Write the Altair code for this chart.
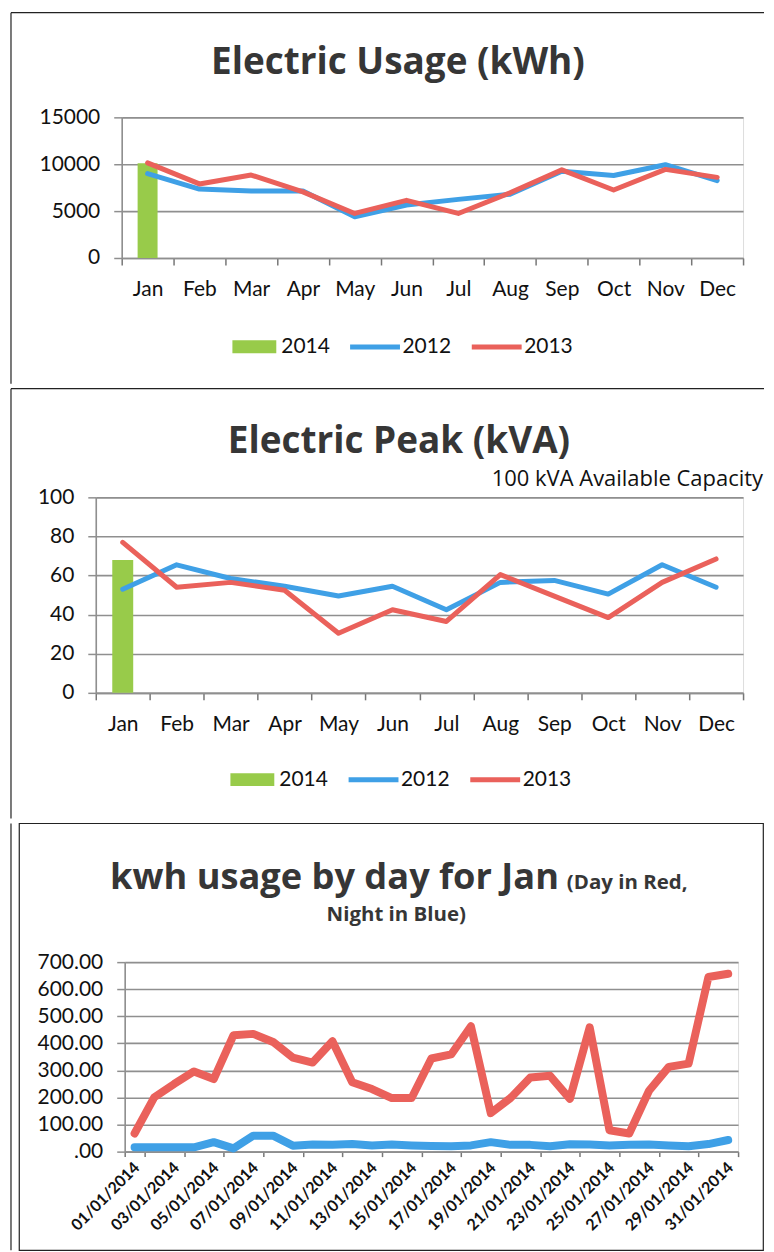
import altair as alt
import pandas as pd

FONT = "Lato"
TFONT = "Open Sans"
GREEN = "#98CB4A"
BLUE = "#3FA0E6"
RED = "#EA615B"
GRID = "#8f8f8f"
BORDER = "#222222"
TITLE_C = "#363636"
TEXT_C = "#111111"

# ---------------- data ----------------
months = ["Jan", "Feb", "Mar", "Apr", "May", "Jun", "Jul", "Aug", "Sep", "Oct", "Nov", "Dec"]
usage_2012 = [9000, 7350, 7150, 7150, 4400, 5650, 6250, 6800, 9250, 8800, 9950, 8250]
usage_2013 = [10150, 7900, 8850, 7050, 4750, 6150, 4750, 6950, 9400, 7250, 9450, 8600]
usage_2014 = [10100]

peak_2012 = [53, 65.5, 58.5, 54.5, 49.5, 54.5, 42.5, 56.5, 57.5, 50.5, 65.5, 54]
peak_2013 = [77, 54, 56.5, 52.5, 30.5, 42.5, 36.5, 60.5, 49.5, 38.5, 56.5, 68.5]
peak_2014 = [68]

days = ["01/01/2014", "02/01/2014", "03/01/2014", "04/01/2014", "05/01/2014", "06/01/2014",
        "07/01/2014", "08/01/2014", "09/01/2014", "10/01/2014", "11/01/2014", "12/01/2014",
        "13/01/2014", "14/01/2014", "15/01/2014", "16/01/2014", "17/01/2014", "18/01/2014",
        "19/01/2014", "20/01/2014", "21/01/2014", "22/01/2014", "23/01/2014", "24/01/2014",
        "25/01/2014", "26/01/2014", "27/01/2014", "28/01/2014", "29/01/2014", "30/01/2014",
        "31/01/2014"]
day_kwh = [67, 201, 250, 296, 268, 430, 435, 405, 347, 329, 408, 256, 231, 198, 198, 344,
           359, 463, 142, 198, 274, 280, 195, 459, 79, 67, 225, 313, 325, 645, 657]
night_kwh = [16, 16, 16, 16, 35, 12, 59, 59, 22, 26, 25, 28, 23, 26, 23, 21,
             20, 23, 35, 25, 25, 20, 27, 26, 23, 25, 26, 23, 20, 28, 43]

one = pd.DataFrame({"k": [0]})


def long(cats, series, catname):
    rows = []
    for name, vals in series:
        for c, v in zip(cats, vals):
            rows.append({catname: c, "year": name, "value": v})
    return pd.DataFrame(rows)


def text_layer(txt, x, y, size, weight="bold", align="left", color=TITLE_C, font=TFONT):
    return alt.Chart(one).mark_text(
        text=txt, font=font, fontSize=size, fontWeight=weight, align=align,
        baseline="alphabetic", color=color
    ).encode(x=alt.value(x), y=alt.value(y))


def hrule(y, x1, x2):
    return alt.Chart(one).mark_rule(color=BORDER, strokeWidth=1.2).encode(
        y=alt.value(y), x=alt.value(x1), x2=alt.value(x2))


def vrule(x, y1, y2):
    return alt.Chart(one).mark_rule(color=BORDER, strokeWidth=1.2).encode(
        x=alt.value(x), y=alt.value(y1), y2=alt.value(y2))


def month_axis():
    return alt.Axis(title=None, tickBand="extent", labelAngle=0, labelFont=FONT,
                    labelFontSize=21, labelColor=TEXT_C, labelBaseline="middle",
                    labelPadding=25, tickSize=7, tickColor="#777777", tickWidth=1.5,
                    domainColor=GRID, domainWidth=1.6, grid=False)


def value_axis(vals, expr=None):
    kw = dict(title=None, values=vals, grid=True, gridColor=GRID, gridWidth=1.6,
              domainColor=GRID, domainWidth=1.6, tickColor=GRID, tickSize=8,
              tickWidth=1.5, labelFont=FONT, labelFontSize=21, labelPadding=14,
              labelColor=TEXT_C, format="d")
    if expr:
        kw["labelExpr"] = expr
    return alt.Axis(**kw)


def legend_bar(lx, ly):
    return alt.Legend(orient="none", legendX=lx, legendY=ly, direction="horizontal",
                      title=None, symbolType="M-0.88,-0.26H0.88V0.26H-0.88Z",
                      symbolSize=2500, symbolStrokeWidth=0, labelFont=FONT,
                      labelFontSize=21, labelColor=TEXT_C, labelOffset=2, padding=0)


def legend_line(lx, ly):
    return alt.Legend(orient="none", legendX=lx, legendY=ly, direction="horizontal",
                      title=None, symbolType="stroke", symbolSize=2500,
                      symbolStrokeWidth=5, labelFont=FONT, labelFontSize=21,
                      labelColor=TEXT_C, labelOffset=0, columnPadding=10, padding=0)


def monthly_panel(series_lines, bar_vals, ymax, yvals, W, H, bar_w, leg_bar, leg_line, extra):
    df_l = long(months, series_lines, "month")
    df_b = long(months[:1], [("2014", bar_vals)], "month")
    xenc = alt.X("month:N", sort=months,
                 scale=alt.Scale(domain=months, paddingInner=0, paddingOuter=0),
                 axis=month_axis())
    yenc = alt.Y("value:Q", scale=alt.Scale(domain=[0, ymax], nice=False),
                 axis=value_axis(yvals))
    bars = alt.Chart(df_b).mark_bar(width=bar_w).encode(
        x=xenc, y=yenc,
        color=alt.Color("year:N", scale=alt.Scale(domain=["2014"], range=[GREEN]),
                        legend=legend_bar(*leg_bar)))
    lines = alt.Chart(df_l).mark_line(strokeWidth=5, strokeJoin="round", strokeCap="round").encode(
        x=xenc, y=yenc,
        color=alt.Color("year:N", scale=alt.Scale(domain=["2012", "2013"], range=[BLUE, RED]),
                        legend=legend_line(*leg_line)))
    return alt.layer(bars, lines, *extra).resolve_scale(color="independent").properties(
        width=W, height=H)


# ---------------- panel 1 ----------------
W1, H1 = 623, 141
p1 = monthly_panel(
    [("2012", usage_2012), ("2013", usage_2013)], usage_2014, 15000,
    [0, 5000, 10000, 15000], W1, H1, 20, (108, 205), (226.5, 202.5),
    [text_layer("Electric Usage (kWh)", 277, -43, 37, align="center"),
     vrule(-111, -105, 267), hrule(-105, -111, 644)])

# ---------------- panel 2 ----------------
W2, H2 = 649, 196
p2 = monthly_panel(
    [("2012", peak_2012), ("2013", peak_2013)], peak_2014, 100,
    [0, 20, 40, 60, 80, 100], W2, H2, 21, (132, 258), (251, 255.5),
    [text_layer("Electric Peak (kVA)", 304, -44, 37, align="center"),
     text_layer("100 kVA Available Capacity", 669, -11, 22, weight="normal",
                align="right", color=TEXT_C),
     vrule(-85, -109, 322), hrule(-109, -85, 670)])

# ---------------- panel 3 ----------------
W3, H3 = 615, 190
df3 = long(days, [("Day", day_kwh), ("Night", night_kwh)], "day")
x3 = alt.X("day:N", sort=days,
           scale=alt.Scale(type="band", domain=days, paddingInner=0, paddingOuter=0),
           axis=alt.Axis(title=None, values=days[::2], tickBand="extent", labelAngle=315,
                         labelAlign="right", labelBaseline="middle", labelFont=FONT,
                         labelFontWeight="bold", labelFontSize=16, labelColor=TEXT_C,
                         labelPadding=8, labelOffset=2, tickSize=5, tickColor="#777777",
                         tickWidth=1.5, domainColor=GRID, domainWidth=1.6, grid=False))
y3 = alt.Y("value:Q", scale=alt.Scale(domain=[0, 700], nice=False),
           axis=value_axis(list(range(0, 701, 100)),
                           "datum.value == 0 ? '.00' : format(datum.value, '.2f')"))
lines3 = alt.Chart(df3).mark_line(strokeWidth=8, strokeJoin="round", strokeCap="round").encode(
    x=x3, y=y3,
    color=alt.Color("year:N", scale=alt.Scale(domain=["Day", "Night"], range=[RED, BLUE]),
                    legend=None))
frame3 = alt.Chart(one).mark_rect(fillOpacity=0, stroke=BORDER, strokeWidth=1.2).encode(
    x=alt.value(-105.7), x2=alt.value(640.3), y=alt.value(-139), y2=alt.value(289))
p3 = alt.layer(
    lines3,
    text_layer("kwh usage by day for Jan", -14.7, -73, 36.3),
    text_layer("(Day in Red,", 443.3, -73, 20.5),
    text_layer("Night in Blue)", 272.3, -41, 20.5, align="center"),
    frame3,
    vrule(-114, -139, 289),
).properties(width=W3, height=H3)


def spacer():
    return alt.Chart(one).mark_point(size=0, opacity=0, strokeWidth=0).properties(
        width=1, height=1)


def row(panel):
    return alt.hconcat(spacer(), alt.vconcat(spacer(), panel, spacing=0), spacing=0)


chart = alt.vconcat(row(p1), row(p2), row(p3), spacing=0).properties(
    padding=0).configure_view(stroke=None).configure(background="white")

chart.save("out.html", embed_options={"renderer": "svg", "actions": False})
